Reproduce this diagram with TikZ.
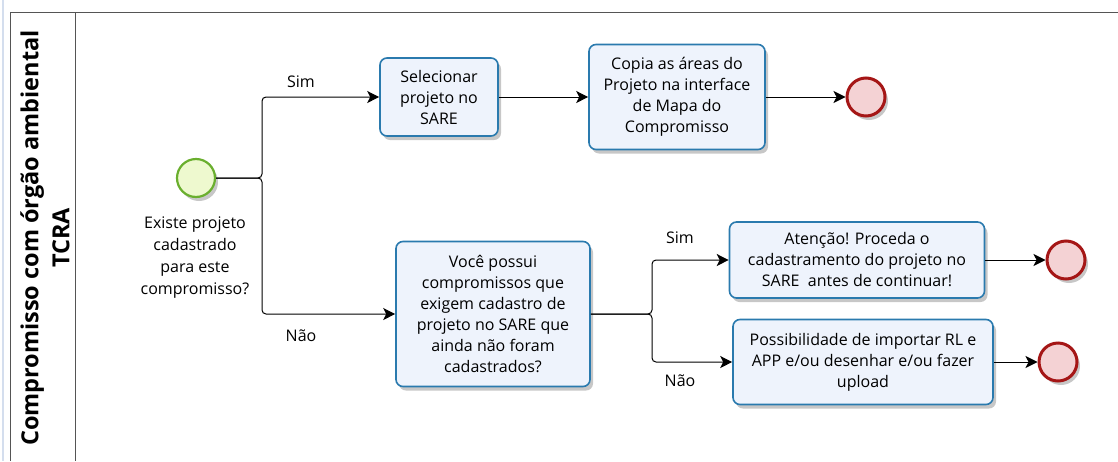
\documentclass[tikz,border=0pt]{standalone}
\usepackage{fontspec}
\setmainfont{Open Sans}
\usetikzlibrary{arrows.meta, positioning, shadows}
\definecolor{taskline}{HTML}{2A7AAE}
\definecolor{taskfill}{HTML}{EEF3FC}
\definecolor{startline}{HTML}{6AAF2E}
\definecolor{startfill}{HTML}{EEF9CF}
\definecolor{endline}{HTML}{A51616}
\definecolor{endfill}{HTML}{F4D2D4}
\definecolor{poolline}{HTML}{555555}
\definecolor{edgeblue}{HTML}{D4DEEE}

\begin{document}
\begin{tikzpicture}[
    x=1pt, y=-1pt,
    shade/.style = {drop shadow={shadow xshift=3pt, shadow yshift=-4pt,
                    opacity=0.22, fill=black}},
    task/.style  = {
        draw=taskline, fill=taskfill, rounded corners=7pt,
        line width=1.6pt, align=center, inner sep=2pt,
        font=\fontsize{16}{21}\selectfont, shade
    },
    startev/.style = {circle, draw=startline, fill=startfill,
                      line width=2.2pt, minimum size=38pt, shade},
    endev/.style   = {circle, draw=endline, fill=endfill,
                      line width=3pt, minimum size=38pt, shade},
    arr/.style     = {-{Stealth[length=12pt, width=12pt, inset=3pt]},
                      line width=1pt, rounded corners=4pt},
    lbl/.style     = {font=\fontsize{16}{22}\selectfont, align=center}
  ]

  \useasboundingbox (0,0) rectangle (1118,461);

  %% pool and lane
  \draw[edgeblue, line width=1.5pt] (3,0) -- (3,461);
  \draw[poolline, line width=1pt] (1118,12) -- (10,12) -- (10,461);
  \draw[poolline, line width=1pt] (75,12) -- (75,461);
  \node[rotate=90, align=center, font=\fontsize{23.5}{31}\bfseries\selectfont]
        (lane) at (45,238) {Compromisso com órgão ambiental\\TCRA};

  %% start
  \node[startev] (start) at (196,178) {};
  \node[lbl] (startlbl) at (195,258)
        {Existe projeto\\cadastrado\\para este\\compromisso?};

  %% upper branch
  \node[task, minimum width=118pt, minimum height=78pt] (sel) at (439,97)
        {Selecionar\\projeto no\\SARE};
  \node[task, minimum width=176pt, minimum height=105pt] (copia) at (677,97)
        {Copia as áreas do\\Projeto na interface\\de Mapa do\\Compromisso};
  \node[endev] (endA) at (866,97) {};

  %% lower branch
  \node[task, minimum width=194pt, minimum height=145pt] (voce) at (493,314)
        {Você possui\\compromissos que\\exigem cadastro de\\projeto no SARE que\\ainda não foram\\cadastrados?};
  \node[task, minimum width=255pt, minimum height=76pt] (aten) at (857,260)
        {Atenção! Proceda o\\cadastramento do projeto no\\SARE\ \ antes de continuar!};
  \node[task, minimum width=260pt, minimum height=85pt] (poss) at (863,362)
        {Possibilidade de importar RL e\\APP e/ou desenhar e/ou fazer\\upload};
  \node[endev] (endB) at (1066,260) {};
  \node[endev] (endC) at (1058,362) {};

  %% gateways
  \coordinate (gwA) at (262,178);
  \coordinate (gwB) at (652,314);

  %% arrows
  \draw[arr] (start.east) -- (gwA) |- (sel.west);
  \draw[arr] (start.east) -- (gwA) |- (voce.west);
  \draw[arr] (sel.east) -- (copia.west);
  \draw[arr] (copia.east) -- (endA.west);
  \draw[arr] (voce.east) -- (gwB) |- (aten.west);
  \draw[arr] (voce.east) -- (gwB) |- (poss.west);
  \draw[arr] (aten.east) -- (endB.west);
  \draw[arr] (poss.east) -- (endC.west);

  %% labels
  \node[lbl] (simA) at (301,82)  {Sim};
  \node[lbl] (naoA) at (301,336) {Não};
  \node[lbl] (simB) at (680,238) {Sim};
  \node[lbl] (naoB) at (680,381) {Não};

\end{tikzpicture}
\end{document}
